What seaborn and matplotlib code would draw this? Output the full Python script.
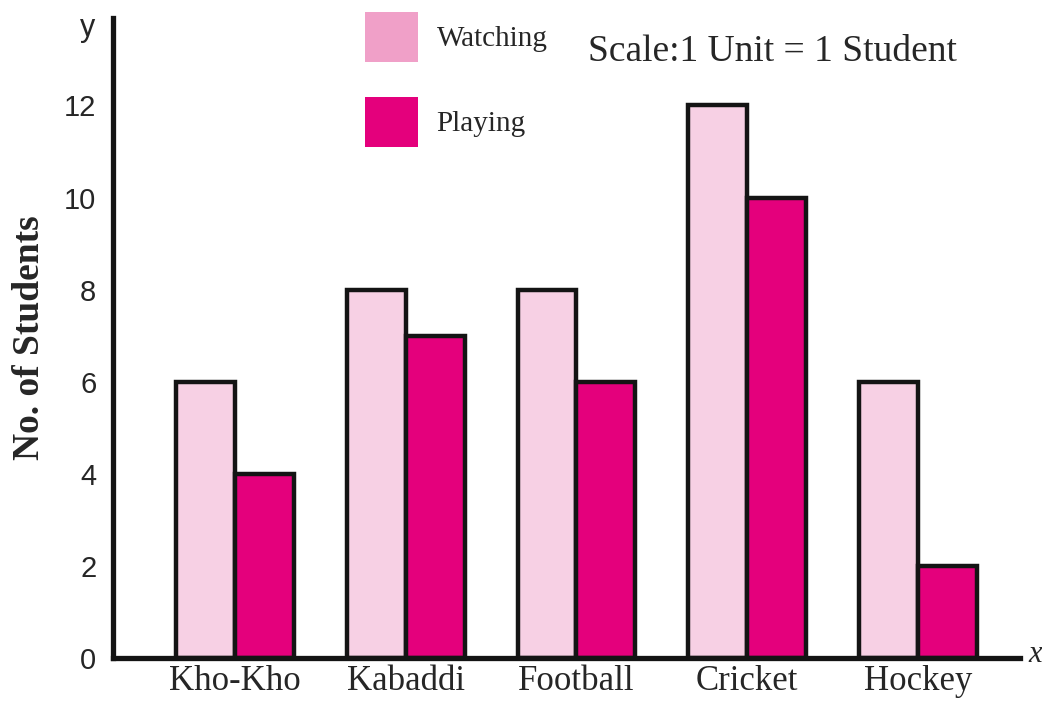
import pandas as pd
import seaborn as sns
from matplotlib import pyplot as plt
from matplotlib.patches import Patch

sports = ["Kho-Kho", "Kabaddi", "Football", "Cricket", "Hockey"]
watching = [6, 8, 8, 12, 6]
playing = [4, 7, 6, 10, 2]

df = pd.DataFrame({
    "sport": sports * 2,
    "students": watching + playing,
    "group": ["Watching"] * 5 + ["Playing"] * 5,
})

sns.set_style("white")
fig = plt.figure(figsize=(10.42, 7.01), dpi=100)
ax = fig.add_axes([113 / 1042, 43 / 701, 907 / 1042, 640 / 701])

sns.barplot(data=df, x="sport", y="students", hue="group",
            palette={"Watching": "#F7D0E4", "Playing": "#E4007C"}, saturation=1,
            width=0.69, edgecolor="#141414", linewidth=3.2, ax=ax, legend=False)

ax.set_xlim(-0.714, 4.597)
ax.set_ylim(0, 13.9)
ax.set_yticks(range(0, 13, 2))
ax.tick_params(axis="y", direction="out", length=8, width=2.5, color="#141414",
               labelsize=21, pad=4)
ax.tick_params(axis="x", length=0, pad=5)
for lab in ax.get_yticklabels():
    lab.set_fontfamily("Liberation Sans")
for lab in ax.get_xticklabels():
    lab.set_fontfamily("Liberation Serif")
    lab.set_fontsize(25)

for side in ["top", "right"]:
    ax.spines[side].set_visible(False)
for side in ["left", "bottom"]:
    ax.spines[side].set_linewidth(3.8)
    ax.spines[side].set_color("#141414")

ax.set_xlabel("")
ax.set_ylabel("No. of Students", fontfamily="Liberation Serif", fontweight="bold",
              fontsize=27, labelpad=12)

handles = [Patch(facecolor="#F0A0C8", edgecolor="none", label="Watching"),
           Patch(facecolor="#E4007C", edgecolor="none", label="Playing")]
ax.legend(handles=handles, loc="upper left", bbox_to_anchor=(350 / 1042, 1 + 3 / 701),
          bbox_transform=fig.transFigure, frameon=False, borderpad=0,
          prop={"family": "Liberation Serif", "size": 21},
          handlelength=1.82, handleheight=2.26, labelspacing=1.2, handletextpad=0.65)

fig.text(588 / 1042, 1 - 52 / 701, "Scale:1 Unit = 1 Student", fontfamily="Liberation Serif",
         fontsize=27, va="center", ha="left")
fig.text(88 / 1042, 1 - 28 / 701, "y", fontfamily="Liberation Sans", fontsize=22,
         va="center", ha="center")
fig.text(1028 / 1042, 1 - 655 / 701, "x", fontfamily="Liberation Serif", fontstyle="italic",
         fontsize=22, va="center", ha="left")

fig.savefig("out.png", dpi=100)
